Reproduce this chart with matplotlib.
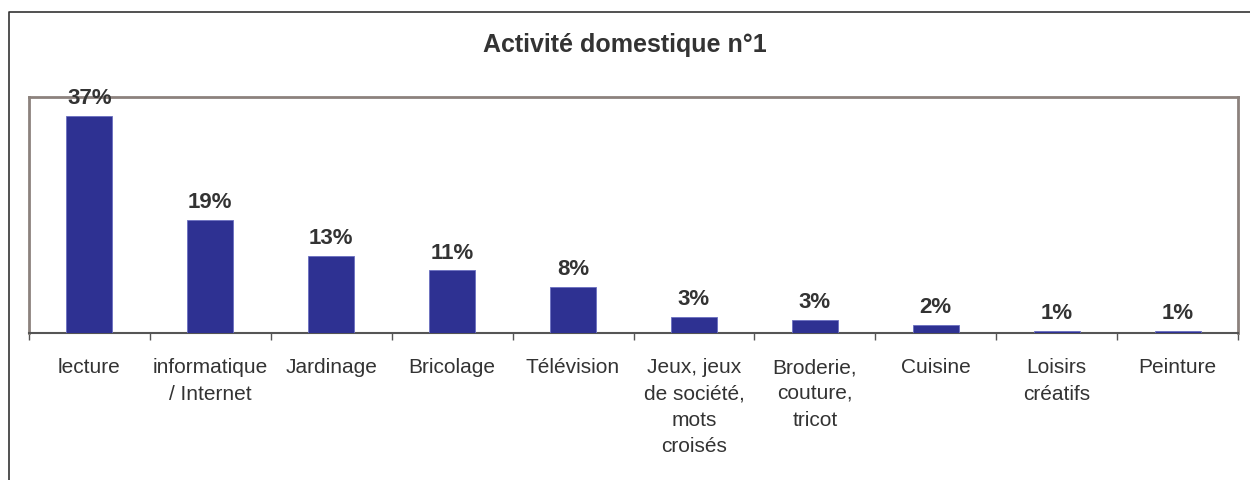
import numpy as np
import matplotlib.pyplot as plt
from matplotlib.lines import Line2D

# data
categories = ["lecture", "informatique\n/ Internet", "Jardinage", "Bricolage", "Télévision",
              "Jeux, jeux\nde société,\nmots\ncroisés", "Broderie,\ncouture,\ntricot",
              "Cuisine", "Loisirs\ncréatifs", "Peinture"]
values = [36.8, 19.2, 13.0, 10.6, 7.8, 2.7, 2.2, 1.4, 0.35, 0.35]
labels = ["37%", "19%", "13%", "11%", "8%", "3%", "3%", "2%", "1%", "1%"]

plt.rcParams['font.family'] = ['Liberation Sans', 'DejaVu Sans']
txt = '#333333'
bar_col = '#2E3192'
frame_col = '#8C827D'

fig = plt.figure(figsize=(12.5, 4.8), dpi=100)
ax = fig.add_axes([29/1250, 1 - 333/480, (1238 - 29)/1250, (333 - 97)/480])

x = np.arange(len(categories))
bars = ax.bar(x, values, width=0.38, color=bar_col, edgecolor='#6A6FC0', linewidth=0.6, zorder=3)

for xi, v, lab in zip(x, values, labels):
    ax.annotate(lab, (xi, v), xytext=(0, 5), textcoords='offset points',
                ha='center', va='bottom', fontsize=16, fontweight='bold', color=txt)

ax.set_xlim(-0.5, len(categories) - 0.5)
ax.set_ylim(0, 40)
ax.set_yticks([])

ax.set_xticks(x)
ax.set_xticklabels(categories, fontsize=15, color=txt, linespacing=1.5)
ax.tick_params(axis='x', which='major', length=0, pad=18)
ax.set_xticks(np.arange(-0.5, len(categories)), minor=True)
ax.tick_params(axis='x', which='minor', length=5, width=1, color='#555555', direction='out')

for side in ['left', 'top', 'right']:
    ax.spines[side].set_color(frame_col)
    ax.spines[side].set_linewidth(2)
ax.spines['bottom'].set_color('#555555')
ax.spines['bottom'].set_linewidth(1.5)

fig.text(0.5, 1 - 45/480, "Activité domestique n°1", ha='center', va='center',
         fontsize=18, fontweight='bold', color=txt)

# outer chart frame
fig.add_artist(Line2D([9/1250, 9/1250, 1.0], [0.0, 1 - 12/480, 1 - 12/480],
                      transform=fig.transFigure, color='#333333', linewidth=1.2))

fig.savefig("out.png", dpi=100)
